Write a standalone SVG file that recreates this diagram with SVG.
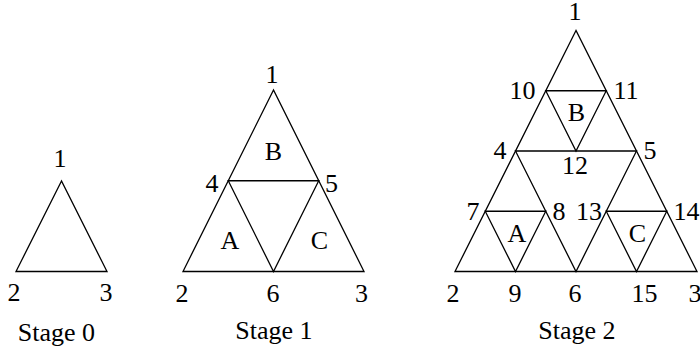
<svg xmlns="http://www.w3.org/2000/svg" width="700" height="349" viewBox="0 0 700 349">
<style>
.e{stroke:#000;stroke-width:1.3;fill:none;stroke-linejoin:miter}
text{font-family:"Liberation Serif","Times New Roman",serif;font-size:26px;fill:#000;text-anchor:middle}
</style>
<rect width="700" height="349" fill="#fff"/>
<g id="connectors">
<g id="stage0-edges">
<polygon class="e" points="61.5,181 16,271.5 107,271.5"/>
</g>
<g id="stage1-edges">
<polygon class="e" points="273.5,90 183,271.5 364,271.5"/>
<polygon class="e" points="228.25,180.75 318.75,180.75 273.5,271.5"/>
</g>
<g id="stage2-edges">
<polygon class="e" points="576,30.5 455,271.5 697,271.5"/>
<polygon class="e" points="515.5,151 636.5,151 576,271.5"/>
<polygon class="e" points="545.75,90.75 606.25,90.75 576,151"/>
<polygon class="e" points="485.25,211.25 545.75,211.25 515.5,271.5"/>
<polygon class="e" points="606.25,211.25 666.75,211.25 636.5,271.5"/>
</g>
</g>
<g id="stage0">
<text id="s0-n1" x="60" y="167">1</text>
<text id="s0-n2" x="14" y="301">2</text>
<text id="s0-n3" x="106" y="301">3</text>
<text id="s0-label" x="56.5" y="341">Stage 0</text>
</g>
<g id="stage1">
<text id="s1-n1" x="272" y="83">1</text>
<text id="s1-n4" x="212" y="191.5">4</text>
<text id="s1-n5" x="331.5" y="191.5">5</text>
<text id="s1-n2" x="182" y="301.5">2</text>
<text id="s1-n6" x="273" y="301.5">6</text>
<text id="s1-n3" x="361.5" y="301.5">3</text>
<text id="s1-B" x="273.5" y="160">B</text>
<text id="s1-A" x="230" y="249">A</text>
<text id="s1-C" x="319.5" y="249">C</text>
<text id="s1-label" x="274" y="339">Stage 1</text>
</g>
<g id="stage2">
<text id="s2-n1" x="575" y="20">1</text>
<text id="s2-n10" x="522.5" y="99">10</text>
<text id="s2-n11" x="626" y="99">11</text>
<text id="s2-n4" x="500" y="159">4</text>
<text id="s2-n5" x="650" y="159">5</text>
<text id="s2-n12" x="575" y="174">12</text>
<text id="s2-n7" x="473" y="220">7</text>
<text id="s2-n8" x="559" y="220">8</text>
<text id="s2-n13" x="589" y="220">13</text>
<text id="s2-n14" x="686.5" y="220">14</text>
<text id="s2-n2" x="453" y="301.5">2</text>
<text id="s2-n9" x="515" y="301.5">9</text>
<text id="s2-n6" x="575" y="301.5">6</text>
<text id="s2-n15" x="644.5" y="301.5">15</text>
<text id="s2-n3" x="695" y="301.5">3</text>
<text id="s2-B" x="576.5" y="120.5">B</text>
<text id="s2-A" x="517" y="241.5">A</text>
<text id="s2-C" x="637.5" y="241.5">C</text>
<text id="s2-label" x="577" y="339">Stage 2</text>
</g>
</svg>
